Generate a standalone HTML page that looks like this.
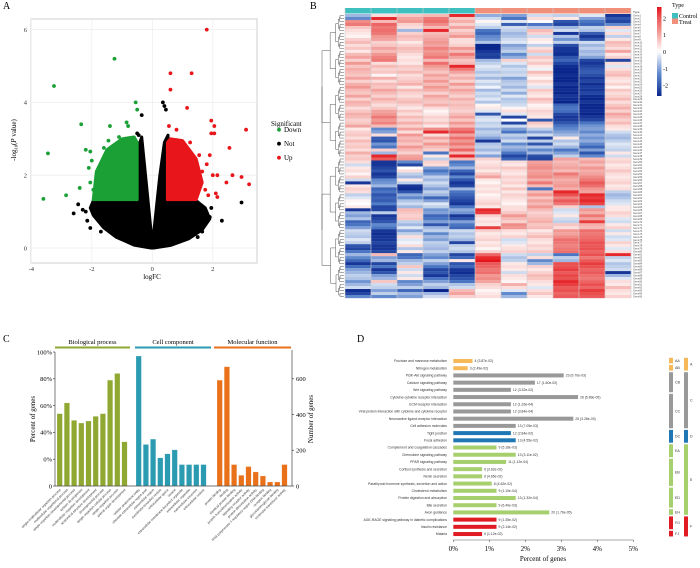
<!DOCTYPE html>
<html><head><meta charset="utf-8"><style>
html,body{margin:0;padding:0;background:#fff;}
svg{display:block;}
.serif{font-family:"Liberation Serif",serif;}
.sans{font-family:"Liberation Sans",sans-serif;}
</style></head><body>
<svg id="fig" width="700" height="568" viewBox="0 0 700 568" xmlns="http://www.w3.org/2000/svg">
<g class="serif" font-size="10">
<text x="3" y="9">A</text>
<text x="310" y="9">B</text>
<text x="3" y="342">C</text>
<text x="357" y="342">D</text>
</g>
<g id="pa"></g>
<g id="pb"></g>
<g id="pc"></g>
<g id="pd"></g>
</svg>
<script>
// ===== Panel A data =====
const greenPts=[[-3.6,1.35],[-3.45,2.6],[-3.25,4.45],[-2.85,1.45],[-2.4,1.65],[-2.35,3.4],[-1.25,5.2],[-1.4,3.35],[-0.85,3.45],[-0.55,4.0],[-0.5,3.8],[-2.2,2.7],[-2.05,2.65],[-2.1,2.2],[-2.05,1.8],[-1.45,2.95],[-0.8,3.35],[-1.6,2.75],[-1.85,1.5],[-1.1,3.05],[-2.0,2.4],[-1.7,2.3],[-1.95,1.6],[-1.75,2.0],[-1.3,2.6],[-0.9,3.0]];
const redPts=[[1.8,6.0],[0.6,4.8],[1.3,4.8],[0.6,4.35],[1.15,3.85],[1.95,3.5],[2.05,3.35],[3.1,3.25],[1.95,3.15],[2.05,3.15],[0.55,3.35],[0.8,3.25],[1.25,2.9],[2.55,2.75],[1.9,2.55],[2.15,2.0],[2.65,2.0],[2.95,1.95],[3.2,1.75],[2.45,1.8],[2.1,1.5],[2.15,1.4],[1.55,2.55],[1.8,2.3],[2.0,2.0],[1.75,1.6],[1.65,2.1],[1.85,1.45],[1.5,2.2]];
const blackPts=[[0.35,4.0],[0.4,3.9],[0.45,3.8],[-0.35,3.65],[2.95,1.25],[2.3,0.75],[-2.45,1.2],[-2.6,0.95],[-2.15,0.75],[-2.05,0.55],[1.65,0.45],[-0.5,3.15],[-0.45,3.1],[-2.3,1.05],[1.9,0.85],[1.75,0.95],[-2.2,1.0],[1.95,1.1],[-1.7,0.45],[1.5,0.3]];
const blackCloud=[[-0.05,0],[-0.6,0.08],[-1.2,0.3],[-1.6,0.55],[-1.95,0.9],[-2.05,1.1],[-1.95,1.3],[-0.5,1.3],[-0.45,2.8],[-0.35,3.05],[-0.2,1.8],[-0.04,0.45],[0.05,0.45],[0.25,2.0],[0.4,2.9],[0.52,3.1],[0.5,1.3],[1.45,1.3],[1.75,1.1],[1.9,0.8],[1.65,0.5],[1.2,0.25],[0.6,0.07],[0.05,0]];
const greenCloud=[[-0.5,1.33],[-1.95,1.33],[-1.85,2.1],[-1.5,2.7],[-1.0,3.0],[-0.6,3.05],[-0.5,2.9]];
const redCloud=[[0.5,1.33],[1.45,1.33],[1.65,1.8],[1.45,2.45],[1.0,2.95],[0.6,3.0],[0.5,2.9]];
const aXTicks=[-4,-2,0,2];
const aYTicks=[0,2,4,6];
// ===== Panel B data (rows x 11 samples) =====
const sampleTypes=["Control","Control","Control","Control","Control","Treat","Treat","Treat","Treat","Treat","Treat"];
const hm=[
[-.6,.3,.5,.6,2,-.7,-.8,-.3,-.4,-.2,-2],[-1,2,.8,1.2,.5,-.3,-1.2,.3,.2,-.8,-1.6],[1,.6,.9,1.3,.7,.1,-.2,0,-1.6,-1.2,-1.8],[1.2,1.4,.4,1,.4,-.2,-1.5,-1.2,-1.8,-1.4,-1],
[.5,1.2,.3,.6,.8,-.4,-.3,-.5,-.6,-.4,.4],[.3,1.3,-.6,2,.4,-1.2,-.4,.6,-.3,-.5,-.2],[.2,1.2,.4,.6,.6,-1.4,-.6,.4,-2,-1.5,.3],[.1,.9,.6,.7,.9,-1,-.5,-.3,-.5,-2,-.4],
[.4,.8,.5,.8,.3,-.9,-.3,.2,-.9,-1.6,.2],[.6,.4,.2,.9,.3,-.5,-.2,.1,-.4,-.3,.6],[.3,.5,.4,.8,.4,-2.2,-.8,-.4,-1.7,-.6,.5],[.5,.8,.6,1.1,.9,-2.2,-.6,.3,-2,-.4,.3],
[.2,.6,.5,.9,.6,-2,-.4,.5,-2,-.6,.8],[.6,.9,.3,1,1.2,-1.8,-1,-.3,-2.1,-.5,.2],[.8,1.1,.2,1.2,.8,-1.9,-.7,.5,-1.6,-.8,.4],[.4,1.2,.3,.6,.5,-.6,.4,.3,-1.4,-1.8,-1.8],
[.9,.3,.2,1.3,.6,-.4,-.2,.5,-1.8,-2,.3],[.5,.6,.5,.9,2,-.2,-.5,.2,-2.1,-1.8,-.2],[.7,.4,.4,.7,1.2,-.3,-.3,-.1,-2.2,-1.6,.3],[.6,.5,.6,.5,.8,-.5,-.4,.6,-2.2,-1.5,.5],
[.5,.1,.3,.8,.5,-.3,-.3,.3,-2.1,-1.7,.6],[.8,.7,.4,.6,.7,-.6,-.8,.1,-2.2,-2,.3],[.4,.3,.5,.9,.4,-.2,-.5,.4,-2.2,-1.8,.2],[.7,.6,.7,.6,.9,-.4,-.4,.2,-2,-2.1,.4],
[.9,.5,.2,.9,.5,-.1,-.6,-.2,-2.2,-1.9,.1],[.6,.8,.6,.7,.8,-.6,-.3,.5,-2.1,-2,.5],[.5,.6,.4,.4,.6,-.3,-.7,.3,-2.2,-1.8,.3],[.8,.4,.3,.8,.4,-.4,-.2,.2,-2,-2.1,.4],
[.4,.7,.5,.6,.7,-.2,-.5,.6,-2.1,-2.2,.6],[.7,.5,.6,.5,.5,-.5,-.4,.4,-2.2,-2,.3],[.6,.3,.4,.7,.6,.1,-.3,.1,-1.4,-2.2,.5],[.3,.5,.2,.3,.5,.2,.1,.2,-1.2,-2.2,.7],
[.5,.8,.5,.1,.4,-.2,.3,.4,-1.3,-2.1,.4],[.7,.9,.3,.2,.6,-1.6,-.2,.3,-1.8,-2.2,.8],[.6,1.2,.6,.4,.8,-.3,-1.8,.2,-2,-2,.6],[.4,.9,.4,.3,.5,-.2,0,-1.6,-1.9,-1.8,.4],
[.5,1.1,.7,.5,.9,-.4,-1.8,.5,-1.6,-1.2,.6],[.8,.6,.4,.2,.6,-.3,-.3,.3,-1.2,-.9,.3],[.2,-1,.8,1,1.2,-.6,-.8,-.4,-1,-.8,.2],[.4,-.8,.3,2,1.5,-.4,-1.2,-.8,-.8,-1,-.3],
[.5,.3,.9,.3,.8,-.5,-.4,-.3,-.6,-.7,-.5],[.3,-1.5,.6,.8,1.3,-.8,-.6,-1.8,.2,-.9,-.6],[.6,-1.6,.7,.5,.9,-2,-.3,-.4,-.5,-.7,-.4],[.4,-.9,.5,.9,1.2,-.5,-1,-1.6,-.3,-1,-.2],
[.5,-1.2,.9,.6,.8,-.4,-.6,-.5,-.6,-1.4,-.3],[.3,.4,.6,.4,1.4,-.6,-.8,-1,-1.2,-.8,-.4],[.7,-.6,.4,-1.2,.6,-.3,-1.2,-.6,-.8,-1.6,.2],[.4,2,.8,.2,2,-.8,-1.8,-1.7,-.4,-1,-.3],
[.5,1.5,.9,-.4,.6,.4,-1.4,-1.8,.8,.6,.3],[.3,-2,-1,.4,-1.2,.2,.3,.8,.6,.8,.4],[-.3,-2,-1.8,.3,-1,.3,.2,.9,.7,.6,.2],[.2,-1.8,0,-.8,-.6,.4,.5,1,.8,.9,.3],
[.3,-1.6,.3,-1.2,-1.4,.2,.3,.8,.6,.7,.5],[.1,-2,-.4,-.9,-1.8,.5,.2,.9,1.2,.8,.3],[.4,-1.8,-.6,-.4,-1,.8,.4,1,.9,1,.2],[-.3,-1,.2,-.6,-1.6,.2,.3,.7,.7,1.2,.3],
[-2,-.9,-.4,-.3,-2,.1,.4,1.2,.8,1.5,.4],[.2,-.6,-2,-.5,-1.8,.3,.2,.6,.9,1.3,.2],[.4,-1.4,-2.1,-.8,-.6,.2,.5,-1.2,.7,.9,.3],[.3,-1.2,-1.6,-.4,-1.2,.3,.2,.6,2,.8,-.4],
[-.4,-1.6,-.7,-.6,-1.4,.1,.4,.9,1.6,2,-.6],[-.2,-1.4,-1,-1.4,-1.6,.2,.3,.5,1.1,1.8,-.5],[.1,-1.5,-.5,-.8,-1.8,.3,.2,.8,1.5,2,-.3],[0,-1.1,-.3,-.2,-2,.4,.1,.6,1.2,1.7,-.2],
[.2,-1.8,-.6,-.4,-1.2,.2,.3,.9,.4,-.5,.2],[-2,-1.8,.6,-.9,-.7,2,.3,.6,-.3,.9,.2],[-.6,-.4,.5,-.8,-.9,1.8,.5,.4,-.2,.7,.4],[-.8,-2,.4,-1.4,-2,.4,.9,.5,.2,1.2,.3],
[-.5,-1.8,.5,-1.2,-1.6,.2,.6,.6,-.3,.8,-.2],[-1.4,-1.6,-.4,-.8,-.8,.3,.4,.7,-.4,1.8,-.3],[-1.2,-1,-.6,-1.6,-1.2,.2,1,.5,.5,.7,.2],[-.8,-1.2,-.2,-.6,-1.4,1.8,.9,.6,.3,.6,.4],
[-.3,-2,-.8,-.4,-.3,.4,.3,.2,.9,1.3,-.3],[-.4,-2.1,-.4,-1,-.5,.2,.2,.4,.8,1.2,.2],[-.5,-2,.3,-.6,-.4,.3,.4,.6,1,1.3,-.3],[-.2,-2,-.2,-.8,-.6,.4,-.3,.3,1.3,1.4,-.2],
[-.4,-1.8,-.1,-.4,-1.8,.2,-.2,.2,1.2,1.6,.4],[-1.6,-2,.3,-.5,-.4,.3,.2,.4,1.1,1.5,.2],[-1.8,-2,-.5,-.6,-.3,.1,.3,.3,1.2,1.6,-.2],[-1.2,-1.8,.2,-.4,-.5,.4,.4,.5,1.3,1.4,.3],
[-.6,.6,-1.4,-.8,-1.8,1.4,-.3,-.4,-1.2,1.6,2],[-1,-.8,-1.2,-1,-1.4,2,-.5,.3,-.4,1.2,-.4],[-1.4,-.6,-.6,-.4,.2,2.2,-.4,-1,-.6,1.5,-.2],[-2,-1.8,-.4,-.8,-1.6,1.5,.2,-.6,1.6,1.8,-.5],
[-1.3,-1.2,.5,-1.2,-1.4,1.4,.3,.4,1.6,1.6,-.4],[-.8,-2,-.3,-1.8,-2,1.2,.2,.2,1.8,1.4,-.3],[-.6,-1.6,.2,-1.6,-2.1,1.3,-.3,.4,1.5,1.5,-2],[-.4,-.8,-.3,-2,-1.8,.9,.3,.6,1.7,1.3,-.6],
[-.5,-.6,.2,-1.2,-1.6,1,.2,.5,1.6,1.2,-.2],[-.9,.5,-1,-.8,-1.2,.8,.1,.3,2,1.4,.3],[-.6,-.3,-.8,-.4,-.5,.4,.7,.2,1.8,1.6,.2],[-.3,-.4,-.4,-.6,-.3,.3,.3,-.2,1.5,1.4,.6],
[-2.1,-.8,-1.4,-2.2,.6,.1,-.2,.3,1.6,1.8,.3],[-1.8,-.4,-.6,-.6,.8,.2,-1,.5,1.4,1.6,.2],[-1,-1,-.8,-.3,.4,.3,-.6,.2,1.5,1.5,.4]];
const hmScaleTicks=[2,1,0,-1,-2];
// ===== Panel C data =====
const goGroups=["Biological process","Cell component","Molecular function"];
const bpTerms=["single-multicellular organism process","multicellular organismal process","single-organism developmental process","system development","multicellular organism development","anatomical structure development","developmental process","single-organism cellular process","single-organism process","animal organ development"];
const bpValues=[54,62,49,47,48.5,52,54,79,84,33];
const ccTerms=["cellular anatomical entity","obsolete extracellular region part","extracellular region","membrane-bounded vesicle","extracellular space","vesicle","extracellular membrane-bounded organelle","extracellular organelle","extracellular exosome","extracellular vesicle"];
const ccValues=[97,31,35,21,24,27,16,16,16,16];
const mfTerms=["protein binding","binding","identical protein binding","protein homodimerization activity","signaling receptor activity","protein dimerization activity","RNA polymerase II regulatory region DNA binding","receptor binding","glycosaminoglycan binding","molecular transducer activity"];
const mfValues=[79,89,16,8,14.5,10.5,7.5,3,3,16];
const cPctTicks=[0,20,40,60,80,100];
const cPctLabels=["0","0%","40%","60%","80%","100%"];
const cCountTicks=[0,200,400,600];
// ===== Panel D data =====
const keggTerms=["Fructose and mannose metabolism","Nitrogen metabolism","PI3K-Akt signaling pathway","Calcium signaling pathway","Wnt signaling pathway","Cytokine-cytokine receptor interaction","ECM-receptor interaction","Viral protein interaction with cytokine and cytokine receptor","Neuroactive ligand-receptor interaction","Cell adhesion molecules","Tight junction","Focal adhesion","Complement and coagulation cascades","Chemokine signaling pathway","PPAR signaling pathway","Cortisol synthesis and secretion","Renin secretion","Parathyroid hormone synthesis, secretion and action","Cholesterol metabolism","Protein digestion and absorption","Bile secretion","Axon guidance","AGE-RAGE signaling pathway in diabetic complications","Insulin resistance","Malaria"];
const keggGenes=[4,3,23,17,12,26,12,12,25,13,12,13,9,13,11,6,6,8,9,13,9,20,9,9,6];
const keggPvals=["3.87e-02","2.49e-02","9.70e-03","1.60e-02","3.32e-02","5.89e-05","1.26e-04","3.84e-04","3.28e-03","7.05e-03","2.84e-02","4.55e-02","5.18e-03","3.11e-02","1.12e-04","3.62e-02","4.65e-02","4.62e-02","1.10e-04","1.32e-04","6.40e-03","1.76e-05","1.35e-02","2.14e-02","1.12e-02"];
const keggClass=["A","A","C","C","C","C","C","C","C","C","D","D","E","E","E","E","E","E","E","E","E","E","F","F","F"];
const keggSub=["AA","AB","CB","CB","CB","CC","CC","CC","CC","CC","DC","DC","EA","EA","EB","EB","EB","EB","ED","ED","ED","EH","FG","FG","FJ"];
const keggTotal=750;
const dTicks=[0,1,2,3,4,5];

const NS="http://www.w3.org/2000/svg";
function mk(parent,tag,attrs,text){const e=document.createElementNS(NS,tag);for(const k in attrs)e.setAttribute(k,attrs[k]);if(text!==undefined)e.textContent=text;parent.appendChild(e);return e;}

// ===== Draw A =====
(function(){
const g=document.getElementById('pa');
const X=v=>152.3+v*30.25, Y=v=>248-v*36.4;
const frame=mk(g,'rect',{x:31,y:19,width:226,height:244,fill:'#fff',stroke:'#cfcfcf','stroke-width':1});


for(const t of aXTicks){const l=mk(g,'line',{x1:X(t),x2:X(t),y1:19,y2:263,stroke:'#eeeeee','stroke-width':0.8});


const tx=mk(g,'text',{x:X(t),y:271,'text-anchor':'middle','font-size':6.5,class:'serif',fill:'#333'},String(t));

}
for(const t of aYTicks){const l=mk(g,'line',{x1:31,x2:257,y1:Y(t),y2:Y(t),stroke:'#eeeeee','stroke-width':0.8});


const tx=mk(g,'text',{x:27,y:Y(t)+2.3,'text-anchor':'end','font-size':6.5,class:'serif',fill:'#333'},String(t));

}
const poly=(pts,c,n)=>{const p=mk(g,'polygon',{points:pts.map(q=>X(q[0])+','+Y(q[1])).join(' '),fill:c,stroke:c,'stroke-width':3,'stroke-linejoin':'round'});

};
poly(blackCloud,'#000','not-significant-cloud');
poly(greenCloud,'#1aa035','down-cloud');
poly(redCloud,'#e8161b','up-cloud');
const dots=(pts,c,n)=>{for(const q of pts){const d=mk(g,'circle',{cx:X(q[0]),cy:Y(q[1]),r:1.9,fill:c});

}};
dots(blackPts,'#000','not-point');dots(greenPts,'#1aa035','down-point');dots(redPts,'#e8161b','up-point');
const xt=mk(g,'text',{x:152,y:279,'text-anchor':'middle','font-size':7,class:'serif'},'logFC');


const yt=mk(g,'text',{transform:'translate(16,140) rotate(-90)','text-anchor':'middle','font-size':7,class:'serif'});


yt.innerHTML='-log<tspan font-size="4.5" dy="1.5">10</tspan><tspan dy="-1.5">(</tspan><tspan font-style="italic">P</tspan> value)';
const lt=mk(g,'text',{x:271,y:126,'font-size':7,class:'serif'},'Significant');


[['Down','#1aa035',132],['Not','#000',146],['Up','#e8161b',160]].forEach(e=>{
const gg=mk(g,'g',{});


mk(gg,'circle',{cx:279,cy:e[2]-2.3,r:1.9,fill:e[1]});
mk(gg,'text',{x:284,y:e[2],'font-size':7,class:'serif'},e[0]);});
})();

// ===== Draw B =====
(function(){
const g=document.getElementById('pb');
const x0=345,x1=631,y0=14,y1=298,nc=sampleTypes.length,nr=hm.length;
const cw=(x1-x0)/nc,rh=(y1-y0)/nr;
function col(v){v=Math.max(-2.2,Math.min(2.2,v));let a,b,t;
if(v>=0){if(v<1){a=[255,255,255];b=[240,140,135];t=v;}else{a=[240,140,135];b=[228,20,26];t=(v-1)/1.2;}}
else{v=-v;if(v<1.1){a=[255,255,255];b=[80,125,200];t=v/1.1;}else{a=[80,125,200];b=[10,38,140];t=(v-1.1)/1.1;}}
t=Math.min(1,t);return 'rgb('+a.map((c,i)=>Math.round(c+(b[i]-c)*t)).join(',')+')';}
sampleTypes.forEach((s,j)=>{const r=mk(g,'rect',{x:x0+j*cw,y:8,width:cw,height:5.5,fill:s==='Control'?'#3fbfbf':'#f1907a'});

});
hm.forEach((row,i)=>row.forEach((v,j)=>{const r=mk(g,'rect',{x:x0+j*cw,y:y0+i*rh,width:cw+0.2,height:rh+0.15,fill:col(v)});

}));
for(let j=0;j<=nc;j++){const l=mk(g,'line',{x1:x0+j*cw,x2:x0+j*cw,y1:8,y2:y1,stroke:'#cfcfcf','stroke-width':0.6});

}
const tt=mk(g,'text',{x:633,y:13,'font-size':3,class:'sans',fill:'#333'},'Type');


for(let i=0;i<nr;i++){const t=mk(g,'text',{x:633,y:y0+i*rh+rh*0.85,'font-size':2.6,class:'sans',fill:'#555'},'Gene'+(i+1));

}
// dendrogram
const den=mk(g,'g',{stroke:'#555','stroke-width':0.5,fill:'none'});


function clus(a,b,depth){const ya=y0+(a+0.5)*rh,yb=y0+(b+0.5)*rh;if(b-a<1)return {y:ya,x:x0-1};
const m=Math.floor((a+b)/2);const L=clus(a,m,depth+1),R=clus(m+1,b,depth+1);
const xx=x0-3-Math.min(20,(b-a)*0.45+1.5);
mk(den,'path',{d:`M${L.x},${L.y}H${xx}V${R.y}H${R.x}`});return {y:(L.y+R.y)/2,x:xx};}
const top=clus(0,nr-1,0);
const cbar=mk(g,'g',{});


const defs=mk(g,'defs',{});const lg=mk(defs,'linearGradient',{id:'hmg',x1:0,y1:0,x2:0,y2:1});
[2.2,1.5,1,0.5,0,-0.5,-1,-1.5,-2.2].forEach((v,i)=>mk(lg,'stop',{offset:(i/8),'stop-color':col(v)}));
mk(cbar,'rect',{x:657,y:7,width:4.5,height:89,fill:'url(#hmg)'});
hmScaleTicks.forEach(t=>mk(cbar,'text',{x:663,y:52-t*16.8+2,'font-size':6,class:'serif'},String(t)));
const leg=mk(g,'g',{});


mk(leg,'text',{x:672,y:7,'font-size':6,class:'serif'},'Type');
mk(leg,'rect',{x:672,y:13,width:6,height:5.5,fill:'#3fbfbf'});
mk(leg,'text',{x:679,y:18,'font-size':6,class:'serif'},'Control');
mk(leg,'rect',{x:672,y:18.5,width:6,height:5.5,fill:'#f1907a'});
mk(leg,'text',{x:679,y:24,'font-size':6,class:'serif'},'Treat');
})();

// ===== Draw C =====
(function(){
const g=document.getElementById('pc');
const Y=v=>486-v*1.34, YN=n=>486-n*0.1787;
const starts=[57,136,217],cols=['#8fa832','#2a9bb0','#e8711a'],vals=[bpValues,ccValues,mfValues],terms=[bpTerms,ccTerms,mfTerms];
const ends=[[55,130],[135,211],[214,291]];
goGroups.forEach((name,k)=>{
const t=mk(g,'text',{x:(ends[k][0]+ends[k][1])/2,y:344,'text-anchor':'middle','font-size':6.5,class:'serif'},name);


const l=mk(g,'rect',{x:ends[k][0],y:346.5,width:ends[k][1]-ends[k][0],height:2,fill:cols[k]});


vals[k].forEach((v,i)=>{const x=starts[k]+i*7.2;
const b=mk(g,'rect',{x:x,y:Y(v),width:5.4,height:486-Y(v),fill:cols[k],stroke:'#fff','stroke-opacity':0.5,'stroke-width':0.4});


const tl=mk(g,'text',{transform:`translate(${x+4},${490}) rotate(-45)`,'text-anchor':'end','font-size':3.3,class:'sans',fill:'#333'},terms[k][i]);

});});
const ax=mk(g,'g',{stroke:'#444','stroke-width':0.7});


mk(ax,'line',{x1:55,x2:55,y1:Y(100),y2:486});mk(ax,'line',{x1:55,x2:292,y1:486,y2:486});mk(ax,'line',{x1:292,x2:292,y1:350,y2:486});
cPctTicks.forEach((t,i)=>{mk(ax,'line',{x1:53,x2:55,y1:Y(t),y2:Y(t)});
const tx=mk(g,'text',{x:52,y:Y(t)+2.3,'text-anchor':'end','font-size':6.5,class:'serif'},cPctLabels[i]);

});
cCountTicks.forEach(t=>{mk(ax,'line',{x1:292,x2:294,y1:YN(t),y2:YN(t)});
const tx=mk(g,'text',{x:296,y:YN(t)+2.3,'font-size':6.5,class:'serif'},String(t));

});
const l1=mk(g,'text',{transform:'translate(35,419) rotate(-90)','text-anchor':'middle','font-size':7,class:'serif'},'Percent of genes');


const l2=mk(g,'text',{transform:'translate(313,419) rotate(-90)','text-anchor':'middle','font-size':7,class:'serif'},'Number of genes');


})();

// ===== Draw D =====
(function(){
const g=document.getElementById('pd');
const X=p=>453.3+p*36, Y=i=>361+i*7.21;
const classCol={A:'#f5b95a',C:'#999999',D:'#1f78b4',E:'#a6cf6e',F:'#e01b24'};
keggTerms.forEach((t,i)=>{const p=keggGenes[i]*100/keggTotal;
const b=mk(g,'rect',{x:X(0),y:Y(i)-2,width:X(p)-X(0),height:4,fill:classCol[keggClass[i]]});


const lb=mk(g,'text',{x:447,y:Y(i)+1.2,'text-anchor':'end','font-size':3.4,class:'sans',fill:'#333'},t);


const vl=mk(g,'text',{x:X(p)+2,y:Y(i)+1.2,'font-size':3.4,class:'sans',fill:'#333'},keggGenes[i]+' ('+keggPvals[i]+')');

});
const ax=mk(g,'g',{stroke:'#555','stroke-width':0.6});


mk(ax,'line',{x1:X(0),x2:X(5),y1:540,y2:540});
dTicks.forEach(t=>{mk(ax,'line',{x1:X(t),x2:X(t),y1:540,y2:542});
const tx=mk(g,'text',{x:X(t),y:551,'text-anchor':'middle','font-size':7,class:'serif'},t+'%');

});
const xt=mk(g,'text',{x:543,y:561,'text-anchor':'middle','font-size':7,class:'serif'},'Percent of genes');


function spans(arr){const out=[];let s=0;for(let i=1;i<=arr.length;i++){if(i===arr.length||arr[i]!==arr[s]){out.push([arr[s],s,i-1]);s=i;}}return out;}
spans(keggSub).forEach(sp=>{const y=Y(sp[1])-3.2,h=Y(sp[2])-Y(sp[1])+6.4-0.8;
const r=mk(g,'rect',{x:669,y:y,width:4,height:h,fill:classCol[sp[0][0]]});


const t=mk(g,'text',{x:675,y:y+h/2+1.3,'font-size':3.6,class:'sans',fill:'#333'},sp[0]);

});
spans(keggClass).forEach(sp=>{const y=Y(sp[1])-3.2,h=Y(sp[2])-Y(sp[1])+6.4-0.8;
const r=mk(g,'rect',{x:684,y:y,width:4,height:h,fill:classCol[sp[0]]});


const t=mk(g,'text',{x:690,y:y+h/2+1.3,'font-size':3.6,class:'sans',fill:'#333'},sp[0]);

});
})();
</script>
</body></html>
